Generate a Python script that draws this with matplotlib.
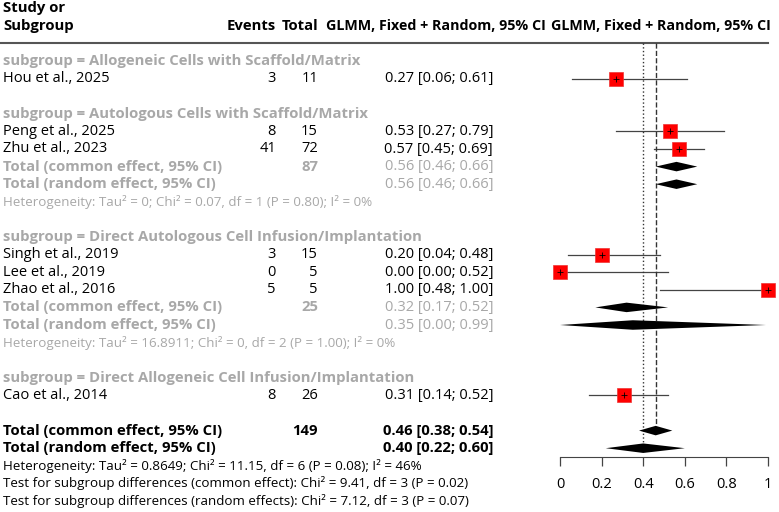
import matplotlib.pyplot as plt
from matplotlib.transforms import blended_transform_factory
import numpy as np

plt.rcParams['font.family'] = ['Open Sans', 'DejaVu Sans']

# study data
studies = ["Hou et al., 2025", "Peng et al., 2025", "Zhu et al., 2023",
           "Singh et al., 2019", "Lee et al., 2019", "Zhao et al., 2016",
           "Cao et al., 2014"]
events = [3, 8, 41, 3, 0, 5, 8]
totals = [11, 15, 72, 15, 5, 5, 26]
est = [0.27, 0.53, 0.57, 0.20, 0.00, 1.00, 0.31]
lower = [0.06, 0.27, 0.45, 0.04, 0.00, 0.48, 0.14]
upper = [0.61, 0.79, 0.69, 0.48, 0.52, 1.00, 0.52]
study_group = [0, 1, 1, 2, 2, 2, 3]

subgroups = ["Allogeneic Cells with Scaffold/Matrix",
             "Autologous Cells with Scaffold/Matrix",
             "Direct Autologous Cell Infusion/Implantation",
             "Direct Allogeneic Cell Infusion/Implantation"]
# subgroup summaries (only groups with more than one study)
sub_n = {1: 87, 2: 25}
sub_common = {1: (0.56, 0.46, 0.66), 2: (0.32, 0.17, 0.52)}
sub_random = {1: (0.56, 0.46, 0.66), 2: (0.35, 0.00, 0.99)}
sub_het = {1: "Heterogeneity: Tau² = 0; Chi² = 0.07, df = 1 (P = 0.80); I² = 0%",
           2: "Heterogeneity: Tau² = 16.8911; Chi² = 0, df = 2 (P = 1.00); I² = 0%"}

total_n = 149
common = (0.46, 0.38, 0.54)
random_ = (0.40, 0.22, 0.60)
overall_lines = ["Heterogeneity: Tau² = 0.8649; Chi² = 11.15, df = 6 (P = 0.08); I² = 46%",
                 "Test for subgroup differences (common effect): Chi² = 9.41, df = 3 (P = 0.02)",
                 "Test for subgroup differences (random effects): Chi² = 7.12, df = 3 (P = 0.07)"]

xticks = [0, 0.2, 0.4, 0.6, 0.8, 1]
xticklabels = ["0", "0.2", "0.4", "0.6", "0.8", "1"]

GRAY = '#a8a8a8'
W, H = 779, 512

fig = plt.figure(figsize=(W / 100, H / 100), dpi=100)
top_row = -61 / 17.6
bot_row = (H - 61) / 17.6
fx = fig.add_axes([560 / W, 0, 208 / W, 1])
fx.set_xlim(0, 1)
fx.set_ylim(bot_row, top_row)
fx.patch.set_visible(False)
tr = blended_transform_factory(fig.transFigure, fx.transData)

X_LAB, X_EV, X_TOT, X_CI = 3 / W, 276 / W, 318 / W, 493 / W
FS = 10.5
FS_B = 10.75
FS_HEAD = 10.3
FS_SMALL = 9.65


def fmt(e, l, u):
    return "%.2f [%.2f; %.2f]" % (e, l, u)


def diamond(row, e, l, u, h=0.27):
    fx.fill([l, e, u, e], [row, row - h, row, row + h], color='black',
            lw=0, clip_on=False, zorder=3)


# header
fx.text(X_LAB, -3, "Study or", transform=tr, fontsize=FS_B, fontweight='bold', va='center')
fx.text(X_LAB, -2, "Subgroup", transform=tr, fontsize=FS_B, fontweight='bold', va='center')
fx.text(X_EV, -2, "Events", transform=tr, fontsize=FS_B, fontweight='bold', va='center', ha='right')
fx.text(X_TOT, -2, "Total", transform=tr, fontsize=FS_B, fontweight='bold', va='center', ha='right')
fx.text(326 / W, -2, "GLMM, Fixed + Random, 95% CI", transform=tr, fontsize=FS_HEAD,
        fontweight='bold', va='center', ha='left')
fx.text(0.485, -2, "GLMM, Fixed + Random, 95% CI", fontsize=FS_HEAD,
        fontweight='bold', va='center', ha='center')
fx.plot([0, 768 / W], [-1.05, -1.05], transform=tr, color='#555555', lw=1.5, clip_on=False)

row = 0
for g, name in enumerate(subgroups):
    fx.text(X_LAB, row, "subgroup = " + name, transform=tr, fontsize=FS_B,
            fontweight='bold', color=GRAY, va='center')
    row += 1
    for i in range(len(studies)):
        if study_group[i] != g:
            continue
        fx.text(X_LAB, row, studies[i], transform=tr, fontsize=FS, va='center')
        fx.text(X_EV, row, str(events[i]), transform=tr, fontsize=FS, va='center', ha='right')
        fx.text(X_TOT, row, str(totals[i]), transform=tr, fontsize=FS, va='center', ha='right')
        fx.text(X_CI, row, fmt(est[i], lower[i], upper[i]), transform=tr, fontsize=FS,
                va='center', ha='right')
        fx.plot([lower[i], upper[i]], [row, row], color='#444444', lw=0.9, clip_on=False, zorder=2)
        fx.plot(est[i], row, marker='s', ms=9.8, mfc='#ff0000', mec='#ee3333', mew=0.5,
                clip_on=False, zorder=4)
        fx.plot(est[i], row, marker='+', ms=4, color='black', mew=0.6, clip_on=False, zorder=5)
        row += 1
    if g in sub_n:
        fx.text(X_LAB, row, "Total (common effect, 95% CI)", transform=tr, fontsize=FS_B,
                fontweight='bold', color=GRAY, va='center')
        fx.text(X_TOT, row, str(sub_n[g]), transform=tr, fontsize=FS_B,
                fontweight='bold', color=GRAY, va='center', ha='right')
        fx.text(X_CI, row, fmt(*sub_common[g]), transform=tr, fontsize=FS, color=GRAY,
                va='center', ha='right')
        diamond(row, *sub_common[g])
        row += 1
        fx.text(X_LAB, row, "Total (random effect, 95% CI)", transform=tr, fontsize=FS_B,
                fontweight='bold', color=GRAY, va='center')
        fx.text(X_CI, row, fmt(*sub_random[g]), transform=tr, fontsize=FS, color=GRAY,
                va='center', ha='right')
        diamond(row, *sub_random[g])
        row += 1
        fx.text(X_LAB, row, sub_het[g], transform=tr, fontsize=FS_SMALL, color=GRAY, va='center')
        row += 1
    row += 1

# overall
row_common = row
fx.text(X_LAB, row, "Total (common effect, 95% CI)", transform=tr, fontsize=FS_B,
        fontweight='bold', va='center')
fx.text(X_TOT, row, str(total_n), transform=tr, fontsize=FS_B, fontweight='bold',
        va='center', ha='right')
fx.text(X_CI, row, fmt(*common), transform=tr, fontsize=FS_B, fontweight='bold',
        va='center', ha='right')
diamond(row, *common)
row += 1
row_random = row
fx.text(X_LAB, row, "Total (random effect, 95% CI)", transform=tr, fontsize=FS_B,
        fontweight='bold', va='center')
fx.text(X_CI, row, fmt(*random_), transform=tr, fontsize=FS_B, fontweight='bold',
        va='center', ha='right')
diamond(row, *random_)
row += 1
for line in overall_lines:
    fx.text(X_LAB, row, line, transform=tr, fontsize=FS_SMALL, va='center')
    row += 1

# reference lines
fx.vlines(random_[0], -1.0, row_random - 0.27, colors='#333333', linestyles=':', lw=1.0)
fx.vlines(common[0], -1.0, row_common - 0.27, colors='#333333', linestyles='--', lw=1.0)

# x axis
for s in ['top', 'left', 'right']:
    fx.spines[s].set_visible(False)
fx.spines['bottom'].set_position(('data', row_random + 0.5))
fx.spines['bottom'].set_color('#444444')
fx.set_xticks(xticks)
fx.set_xticklabels(xticklabels)
fx.tick_params(axis='x', direction='out', length=6.5, width=0.9, pad=8,
               labelsize=FS, colors='#444444', labelcolor='black')
fx.set_yticks([])

fig.savefig('out.png', dpi=100)
